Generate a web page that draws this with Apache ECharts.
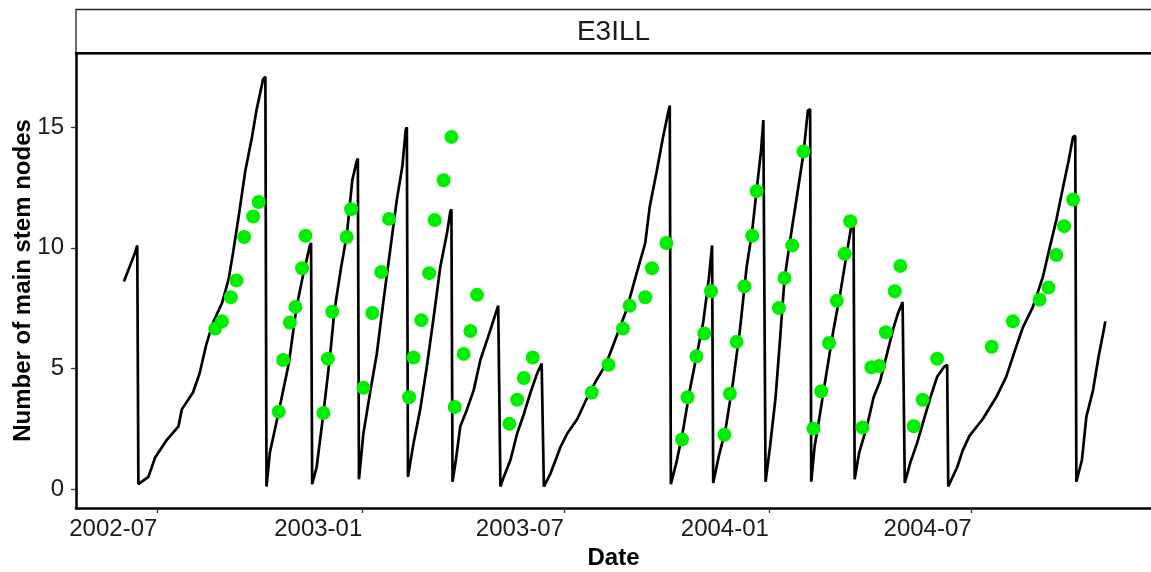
<!DOCTYPE html>
<html>
<head>
<meta charset="utf-8">
<title>E3ILL main stem nodes</title>
<script src="https://cdn.jsdelivr.net/npm/echarts@6/dist/echarts.min.js"></script>
<style>
  html, body { margin: 0; padding: 0; background: #fff; }
  #chart { width: 1151px; height: 572px; }
</style>
</head>
<body>
<div id="chart"></div>
<script>
// Panel label
const panelName = 'E3ILL';

// Axis ticks
const xTickLabels = ['2002-07', '2003-01', '2003-07', '2004-01', '2004-07'];
const yTicks = [0, 5, 10, 15];
const xLimits = ['2002-04-19', '2004-12-09'];
const yLimits = [-0.79, 18.08];

// Simulated number of main stem nodes (black line)
const simDates = [
  '2002-06-01','2002-06-06','2002-06-11','2002-06-13',
  '2002-06-14','2002-06-23','2002-06-29','2002-07-09','2002-07-20','2002-07-23','2002-08-02','2002-08-08',
  '2002-08-14','2002-08-20','2002-08-28','2002-09-03','2002-09-07','2002-09-12','2002-09-18','2002-09-24',
  '2002-09-28','2002-10-04','2002-10-06',
  '2002-10-07','2002-10-10','2002-10-18','2002-10-27','2002-11-03','2002-11-09','2002-11-15','2002-11-16',
  '2002-11-17','2002-11-21','2002-11-27','2002-12-03','2002-12-07','2002-12-13','2002-12-18','2002-12-23',
  '2002-12-27','2002-12-28',
  '2002-12-29','2003-01-02','2003-01-08','2003-01-14','2003-01-20','2003-01-26','2003-02-01','2003-02-06',
  '2003-02-09','2003-02-10',
  '2003-02-11','2003-02-16','2003-02-22','2003-02-28','2003-03-06','2003-03-12','2003-03-18','2003-03-21',
  '2003-03-22',
  '2003-03-23','2003-03-26','2003-03-30','2003-04-05','2003-04-11','2003-04-17','2003-04-26','2003-05-03',
  '2003-05-04',
  '2003-05-05','2003-05-08','2003-05-14','2003-05-20','2003-05-26','2003-06-01','2003-06-07','2003-06-11',
  '2003-06-12',
  '2003-06-13','2003-06-19','2003-06-28','2003-07-04','2003-07-13','2003-07-21','2003-07-30','2003-08-08',
  '2003-08-17','2003-08-26','2003-09-04','2003-09-12','2003-09-16','2003-09-22','2003-09-28','2003-10-03',
  '2003-10-04',
  '2003-10-05','2003-10-10','2003-10-16','2003-10-22','2003-10-28','2003-11-03','2003-11-08','2003-11-11',
  '2003-11-12','2003-11-17','2003-11-23','2003-11-30','2003-12-06','2003-12-12','2003-12-17','2003-12-21',
  '2003-12-25','2003-12-27','2003-12-28',
  '2003-12-29','2004-01-02','2004-01-07','2004-01-11','2004-01-15','2004-01-20','2004-01-26','2004-02-01',
  '2004-02-05','2004-02-07',
  '2004-02-08','2004-02-11','2004-02-16','2004-02-22','2004-02-28','2004-03-05','2004-03-11','2004-03-15',
  '2004-03-17',
  '2004-03-18','2004-03-22','2004-03-29','2004-04-04','2004-04-10','2004-04-16','2004-04-22','2004-04-26',
  '2004-04-30','2004-05-01',
  '2004-05-02','2004-05-07','2004-05-13','2004-05-19','2004-05-25','2004-05-31','2004-06-06','2004-06-09',
  '2004-06-10','2004-06-18','2004-06-23','2004-06-29','2004-07-11','2004-07-23','2004-08-01','2004-08-10',
  '2004-08-16','2004-08-25','2004-09-03','2004-09-09','2004-09-15','2004-09-21','2004-09-26','2004-09-30',
  '2004-10-02',
  '2004-10-03','2004-10-08','2004-10-12','2004-10-18','2004-10-23','2004-10-27','2004-10-29'
];
const simNodes = [
  8.6, 9.2, 9.8, 10.1,
  0.2, 0.5, 1.3, 2.0, 2.6, 3.3, 4.0, 4.8,
  6.0, 6.9, 7.7, 8.7, 9.8, 11.3, 13.2, 14.6,
  15.7, 17.0, 17.1,
  0.1, 1.5, 3.2, 5.2, 7.55, 8.9, 10.1, 10.2,
  0.2, 0.9, 3.1, 5.5, 7.4, 9.2, 10.5, 12.8,
  13.6, 13.7,
  0.4, 2.3, 4.0, 5.6, 7.8, 9.9, 12.0, 13.4,
  14.9, 15.0,
  0.5, 1.9, 3.3, 5.1, 7.1, 9.2, 10.6, 11.5,
  11.6,
  0.3, 1.2, 2.6, 3.3, 4.1, 5.35, 6.6, 7.6,
  7.65,
  0.1, 0.5, 1.2, 2.3, 3.1, 4.0, 4.8, 5.2,
  5.2,
  0.1, 0.65, 1.75, 2.3, 2.9, 3.7, 4.5, 5.2,
  6.3, 7.4, 8.9, 10.2, 11.7, 13.1, 14.6, 15.7,
  15.9,
  0.2, 1.1, 2.45, 4.1, 5.5, 6.9, 8.7, 10.1,
  0.25, 1.35, 2.45, 4.5, 6.6, 9.2, 10.7, 12.4,
  14.05, 15.3, 15.35,
  0.3, 1.75, 3.8, 6.2, 8.7, 10.3, 12.1, 13.9,
  15.7, 15.75,
  0.3, 1.75, 3.15, 4.9, 6.6, 8.1, 9.8, 10.9,
  11.0,
  0.4, 1.5, 2.6, 3.8, 4.5, 5.6, 6.7, 7.3,
  7.75, 7.8,
  0.25, 1.1, 1.9, 2.85, 3.8, 4.65, 5.05, 5.15,
  0.1, 0.9, 1.6, 2.2, 2.9, 3.8, 4.65, 5.9,
  6.7, 7.55, 8.8, 10.0, 11.15, 12.5, 13.6, 14.6,
  14.65,
  0.3, 1.2, 3.0, 4.1, 5.5, 6.45, 6.95
];

// Observed number of main stem nodes (green points)
const obsDates = [
  '2002-08-22','2002-08-28','2002-09-05','2002-09-10','2002-09-17','2002-09-25','2002-09-30',
  '2002-10-18','2002-10-22','2002-10-28','2002-11-02','2002-11-08','2002-11-11',
  '2002-11-27','2002-12-01','2002-12-05','2002-12-18','2002-12-22',
  '2003-01-02','2003-01-10','2003-01-18','2003-01-25',
  '2003-02-12','2003-02-16','2003-02-23','2003-03-02','2003-03-07','2003-03-15','2003-03-22',
  '2003-03-25','2003-04-02','2003-04-08','2003-04-14',
  '2003-05-13','2003-05-20','2003-05-26','2003-06-03',
  '2003-07-26','2003-08-10','2003-08-23','2003-08-29','2003-09-12','2003-09-18','2003-10-01',
  '2003-10-15','2003-10-20','2003-10-28','2003-11-04','2003-11-10',
  '2003-11-22','2003-11-27','2003-12-03','2003-12-10','2003-12-17','2003-12-21',
  '2004-01-10','2004-01-15','2004-01-22','2004-02-01',
  '2004-02-10','2004-02-17','2004-02-24','2004-03-02','2004-03-09','2004-03-14',
  '2004-03-25','2004-04-02','2004-04-09','2004-04-15','2004-04-23','2004-04-28',
  '2004-05-10','2004-05-18','2004-05-31',
  '2004-07-19','2004-08-07','2004-08-31','2004-09-08','2004-09-15','2004-09-22','2004-09-30'
];
const obsNodes = [
  6.65, 6.95, 7.95, 8.65, 10.45, 11.3, 11.9,
  3.2, 5.35, 6.9, 7.55, 9.15, 10.5,
  3.15, 5.4, 7.35, 10.45, 11.6,
  4.2, 7.3, 9.0, 11.2,
  3.8, 5.45, 7.0, 8.95, 11.15, 12.8, 14.6,
  3.4, 5.6, 6.55, 8.05,
  2.7, 3.7, 4.6, 5.45,
  4.0, 5.15, 6.65, 7.6, 7.95, 9.15, 10.2,
  2.05, 3.8, 5.5, 6.45, 8.2,
  2.25, 3.95, 6.1, 8.4, 10.5, 12.35,
  7.5, 8.75, 10.1, 14.0,
  2.5, 4.05, 6.05, 7.8, 9.75, 11.1,
  2.55, 5.05, 5.1, 6.5, 8.2, 9.25,
  2.6, 3.7, 5.4,
  5.9, 6.95, 7.85, 8.35, 9.7, 10.9, 12.0
];

const FONT = '"Liberation Sans", Arial, sans-serif';

// Dates are placed on a numeric (millisecond) scale
function toTime(s) {
  const p = s.split('-').map(Number);
  return new Date(p[0], p[1] - 1, p[2] || 1).getTime();
}
function pad(n) { return n < 10 ? '0' + n : '' + n; }

const xTickValues = xTickLabels.map(toTime);
const simData = simDates.map((d, i) => [toTime(d), simNodes[i]]);
const obsData = obsDates.map((d, i) => [toTime(d), obsNodes[i]]);

const chart = echarts.init(document.getElementById('chart'), null, { renderer: 'canvas' });

chart.setOption({
  animation: false,
  backgroundColor: '#ffffff',
  grid: { left: 76, right: 0, top: 53, bottom: 64, containLabel: false, outerBoundsMode: 'none' },
  xAxis: {
    type: 'value',
    min: toTime(xLimits[0]),
    max: toTime(xLimits[1]),
    name: 'Date',
    nameLocation: 'middle',
    nameGap: 38,
    nameMoveOverlap: false,
    nameTextStyle: { fontFamily: FONT, fontSize: 24, fontWeight: 'bold', color: '#000' },
    axisLine: { show: true, onZero: false, lineStyle: { color: '#000', width: 2.6 } },
    axisTick: { show: true, customValues: xTickValues, length: 5, lineStyle: { color: '#333', width: 1.3 } },
    axisLabel: {
      customValues: xTickValues,
      align: 'right',
      margin: 9,
      fontFamily: FONT,
      fontSize: 24,
      color: '#1a1a1a',
      formatter: function (v) {
        const d = new Date(v);
        return d.getFullYear() + '-' + pad(d.getMonth() + 1);
      }
    },
    splitLine: { show: false }
  },
  yAxis: {
    type: 'value',
    min: yLimits[0],
    max: yLimits[1],
    name: 'Number of main stem nodes',
    nameLocation: 'middle',
    nameGap: 41,
    nameMoveOverlap: false,
    nameTextStyle: { fontFamily: FONT, fontSize: 24, fontWeight: 'bold', color: '#000' },
    axisLine: { show: true, onZero: false, lineStyle: { color: '#000', width: 2.6 } },
    axisTick: { show: true, customValues: yTicks, length: 5, lineStyle: { color: '#333', width: 1.3 } },
    axisLabel: {
      customValues: yTicks,
      margin: 12,
      fontFamily: FONT,
      fontSize: 24,
      color: '#1a1a1a'
    },
    splitLine: { show: false }
  },
  graphic: [
    {
      type: 'rect',
      shape: { x: 76, y: 9.5, width: 1100, height: 44 },
      style: { fill: '#ffffff', stroke: '#222', lineWidth: 1.3 },
      z: 10
    },
    {
      type: 'line',
      shape: { x1: 75, y1: 53.3, x2: 1151, y2: 53.3 },
      style: { stroke: '#000', lineWidth: 2.6 },
      z: 11
    },
    {
      type: 'text',
      x: 613.5,
      y: 32,
      style: {
        text: panelName,
        fontFamily: FONT,
        fontSize: 28,
        fill: '#1a1a1a',
        textAlign: 'center',
        textVerticalAlign: 'middle'
      },
      z: 12
    }
  ],
  series: [
    {
      type: 'line',
      data: simData,
      showSymbol: false,
      symbol: 'none',
      lineStyle: { color: '#000', width: 2.7 },
      z: 2,
      silent: true
    },
    {
      type: 'scatter',
      data: obsData,
      symbol: 'circle',
      symbolSize: 14,
      itemStyle: { color: '#00ee00', opacity: 1 },
      z: 3,
      silent: true
    }
  ]
});
</script>
</body>
</html>
